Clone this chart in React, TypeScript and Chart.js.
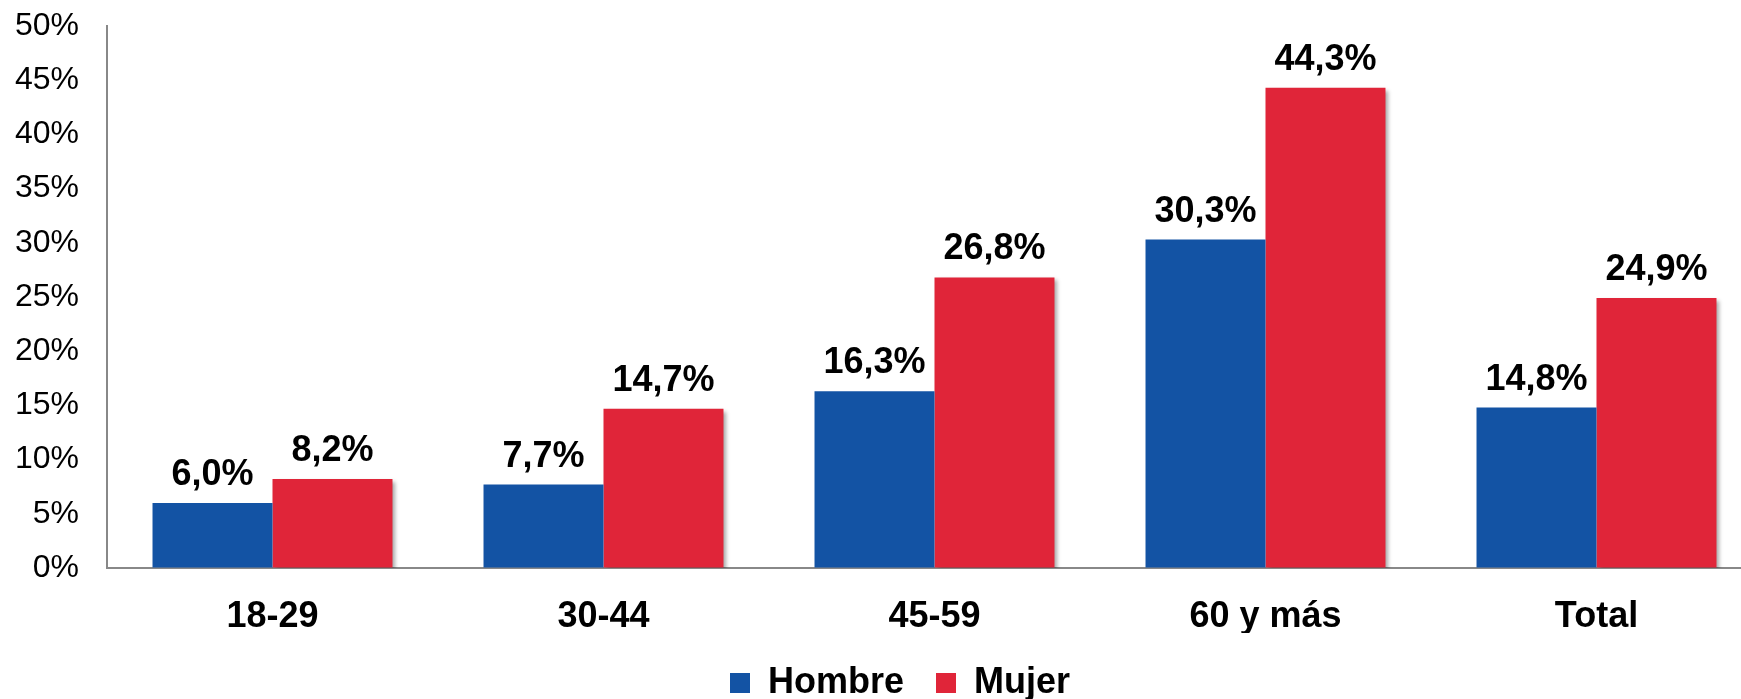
import React, { useEffect, useRef } from "react";
import { Chart, registerables } from "chart.js";

Chart.register(...registerables);

const categories = ["18-29", "30-44", "45-59", "60 y más", "Total"];
const hombre = [6.0, 7.7, 16.3, 30.3, 14.8];
const mujer = [8.2, 14.7, 26.8, 44.3, 24.9];
const seriesNames = ["Hombre", "Mujer"];
const yTicks = [0, 5, 10, 15, 20, 25, 30, 35, 40, 45, 50];

const FONT = "'Liberation Sans', Arial, sans-serif";
const BLUE = "#1353A4";
const RED = "#E02539";

const fmt = (v: number) => v.toFixed(1).replace(".", ",") + "%";

const shadowPlugin = {
  id: "redShadow",
  beforeDatasetDraw(chart: any, args: any) {
    if (args.index === 1) {
      const ctx = chart.ctx;
      ctx.save();
      ctx.shadowColor = "rgba(0,0,0,0.35)";
      ctx.shadowBlur = 4;
      ctx.shadowOffsetX = 3;
      ctx.shadowOffsetY = 3;
    }
  },
  afterDatasetDraw(chart: any, args: any) {
    if (args.index === 1) chart.ctx.restore();
  },
};

const legendShift = {
  id: "legendShift",
  afterLayout(chart: any) {
    if (chart.legend) {
      chart.legend.left += 19;
      chart.legend.right += 19;
    }
  },
};

const dataLabelPlugin = {
  id: "dataLabels",
  afterDatasetsDraw(chart: any) {
    const ctx = chart.ctx;
    ctx.save();
    ctx.font = `bold 36px ${FONT}`;
    ctx.fillStyle = "#000";
    ctx.textAlign = "center";
    ctx.textBaseline = "alphabetic";
    chart.data.datasets.forEach((ds: any, di: number) => {
      const meta = chart.getDatasetMeta(di);
      meta.data.forEach((el: any, i: number) => {
        ctx.fillText(fmt(ds.data[i]), el.x, el.y - 18);
      });
    });
    ctx.restore();
  },
};

export default function App() {
  const ref = useRef<HTMLCanvasElement>(null);
  useEffect(() => {
    document.body.style.margin = "0";
    document.body.style.overflow = "hidden";
    const chart = new Chart(ref.current!, {
      type: "bar",
      data: {
        labels: categories,
        datasets: [
          { label: seriesNames[0], data: hombre, backgroundColor: BLUE, borderWidth: 0 },
          { label: seriesNames[1], data: mujer, backgroundColor: RED, borderWidth: 0 },
        ],
      },
      options: {
        animation: false,
        responsive: true,
        maintainAspectRatio: false,
        datasets: { bar: { categoryPercentage: 0.725, barPercentage: 1 } },
        layout: { padding: { top: 26, right: 0, left: 0, bottom: 2 } },
        plugins: {
          tooltip: { enabled: false },
          legend: {
            position: "bottom",
            labels: {
              font: { family: FONT, size: 36, weight: "bold" },
              color: "#000",
              boxWidth: 20,
              boxHeight: 20,
              padding: 32,
            },
          },
        },
        scales: {
          x: {
            grid: { drawOnChartArea: false, drawTicks: false },
            border: { display: true, color: "#888888", width: 2 },
            ticks: {
              font: { family: FONT, size: 36, weight: "bold" },
              color: "#000",
              padding: 27,
            },
            afterFit(scale: any) {
              scale.height = 65;
              scale.paddingLeft = 0;
              scale.paddingRight = 0;
            },
          },
          y: {
            min: 0,
            max: 50,
            afterBuildTicks(scale: any) {
              scale.ticks = yTicks.map((v) => ({ value: v }));
            },
            grid: { drawOnChartArea: false, drawTicks: false },
            border: { display: true, color: "#888888", width: 2 },
            ticks: {
              font: { family: FONT, size: 32 },
              color: "#000",
              padding: 28,
              callback: (v: any) => v + "%",
            },
            afterFit(scale: any) {
              scale.width = 107;
              scale.paddingTop = 0;
              scale.paddingBottom = 0;
            },
          },
        },
      },
      plugins: [shadowPlugin, dataLabelPlugin, legendShift],
    });
    return () => chart.destroy();
  }, []);
  return (
    <div style={{ width: 1762, height: 713, position: "relative" }}>
      <canvas ref={ref} />
    </div>
  );
}
